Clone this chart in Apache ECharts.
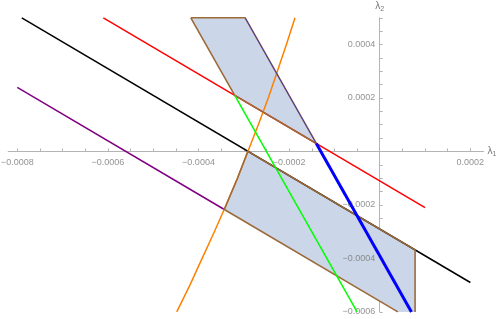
<!DOCTYPE html>
<html>
<head>
<meta charset="utf-8">
<script src="https://cdn.jsdelivr.net/npm/echarts@6/dist/echarts.min.js"></script>
<style>html,body{margin:0;padding:0;background:#fff}#c{width:498px;height:319px}</style>
</head>
<body>
<div id="c"></div>
<script>
// ---- data (values in λ units) ----
const xRange = [-0.00082, 0.000229];
const yRange = [-0.0006, 0.0005];
const xMajorTicks = [-0.0008, -0.0006, -0.0004, -0.0002, 0.0002];
const xMinorTicks = [-0.00075, -0.0007, -0.00065, -0.00055, -0.0005, -0.00045, -0.00035, -0.0003, -0.00025, -0.00015, -0.0001, -0.00005, 0.00005, 0.0001, 0.00015, 0.0002];
const yMajorTicks = [-0.0006, -0.0004, -0.0002, 0.0002, 0.0004];
const yMinorTicks = [-0.00055, -0.0005, -0.00045, -0.00035, -0.0003, -0.00025, -0.00015, -0.0001, -0.00005, 0.00005, 0.0001, 0.00015, 0.00025, 0.0003, 0.00035, 0.00045, 0.0005];

const blackLine  = [[-0.00079, 0.0005], [0.0002, -0.00049]];
const redLine    = [[-0.00061, 0.0005], [0.0001, -0.00021]];
const purpleLine = [[-0.0008, 0.00024], [-0.000343, -0.000217]];
const greenLine  = [[-0.00032, 0.00021], [-0.00005, -0.0006]];
const blueLine   = [[-0.00014, 0.00003], [0.00007, -0.0006]];
const blueThin   = [[-0.000297, 0.0005], [-0.00014, 0.00003]];
const orangeCurve = [
  [-0.000448, -0.0006], [-0.000419, -0.0005], [-0.000392, -0.0004], [-0.000365, -0.0003],
  [-0.000339, -0.0002], [-0.000314, -0.0001], [-0.000291, 0], [-0.000268, 0.0001],
  [-0.000246, 0.0002], [-0.000226, 0.0003], [-0.000206, 0.0004], [-0.000187, 0.0005]
];

const topRegion = [[-0.000417, 0.0005], [-0.000297, 0.0005], [-0.00014, 0.00003], [-0.00032, 0.00021]];
const bottomRegion = [
  [-0.000291, 0.0000006], [0.000078, -0.000368], [0.000078, -0.0006], [0.00004, -0.0006],
  [-0.000343, -0.000217], [-0.000339, -0.0002], [-0.000314, -0.0001]
];
const topEdge = [[-0.000417, 0.0005], [-0.000297, 0.0005], [-0.00014, 0.00003], [-0.00032, 0.00021], [-0.000417, 0.0005]];
const bottomEdgeA = [[-0.000291, 0.0000006], [0.000078, -0.000368], [0.000078, -0.0006]];
const bottomEdgeB = [[0.00004, -0.0006], [-0.000343, -0.000217], [-0.000339, -0.0002], [-0.000314, -0.0001], [-0.000291, 0.0000006]];

// ---- chart ----
const chart = echarts.init(document.getElementById('c'), null, {renderer: 'canvas'});
const fmt = v => (v < 0 ? '\u2212' : '') + Math.abs(v).toFixed(4);
const axisGray = '#b4b4b4';
const labelGray = '#777';
const font = 'Liberation Sans, Arial, sans-serif';
const regions = [topRegion, bottomRegion];
const xAllTicks = xMajorTicks.concat(xMinorTicks);
const yAllTicks = yMajorTicks.concat(yMinorTicks);

function lineSeries(data, color, width, z) {
  return {type: 'line', data: data, showSymbol: false, symbol: 'none', silent: true, z: z,
    lineStyle: {color: color, width: width, cap: 'butt'}};
}
function tickLabelSeries(data, pos, dist) {
  return {type: 'scatter', data: data, symbol: 'circle', symbolSize: 1, silent: true, clip: false, z: 2,
    itemStyle: {color: 'rgba(0,0,0,0)'},
    labelLayout: {hideOverlap: false},
    label: {show: true, position: pos, distance: dist, color: labelGray, fontSize: 9, fontFamily: font,
      formatter: p => fmt(pos === 'bottom' ? p.value[0] : p.value[1])}};
}

chart.setOption({
  animation: false,
  grid: {left: 8.2, right: 14.5, top: 17.8, bottom: 7.1, containLabel: false, outerBoundsMode: 'none'},
  xAxis: {
    type: 'value', min: xRange[0], max: xRange[1],
    axisLine: {onZero: true, lineStyle: {color: axisGray, width: 1}},
    axisTick: {show: true, inside: true, length: 3, customValues: xAllTicks, lineStyle: {color: axisGray}},
    axisLabel: {show: false},
    splitLine: {show: false},
    name: '{i|λ}{s|1}', nameLocation: 'end', nameGap: 4,
    nameTextStyle: {rich: {i: {fontSize: 10, color: labelGray, fontFamily: font}, s: {fontSize: 7, color: labelGray, padding: [6,0,0,0], fontFamily: font}}}
  },
  yAxis: {
    type: 'value', min: yRange[0], max: yRange[1],
    axisLine: {onZero: true, lineStyle: {color: axisGray, width: 1}},
    axisTick: {show: true, inside: true, length: 3, customValues: yAllTicks, lineStyle: {color: axisGray}},
    axisLabel: {show: false},
    splitLine: {show: false},
    name: '{i|λ}{s|2}', nameLocation: 'end', nameGap: 5,
    nameTextStyle: {rich: {i: {fontSize: 10, color: labelGray, fontFamily: font}, s: {fontSize: 7, color: labelGray, padding: [6,0,0,0], fontFamily: font}}}
  },
  series: [
    {
      type: 'custom', clip: true, silent: true, z: 1, data: [0, 1],
      renderItem: function (params, api) {
        const pts = regions[params.dataIndex].map(p => api.coord(p));
        return {type: 'polygon', shape: {points: pts}, style: {fill: 'rgb(203,214,232)', stroke: null}};
      }
    },
    lineSeries(blackLine, '#000000', 1.5, 3),
    lineSeries(redLine, '#ff0000', 1.5, 3),
    lineSeries(purpleLine, '#800080', 1.5, 3),
    lineSeries(orangeCurve, '#ff8000', 1.5, 3),
    lineSeries(topEdge, '#9c6b3a', 1.6, 4),
    lineSeries(bottomEdgeA, '#9c6b3a', 1.6, 4),
    lineSeries(bottomEdgeB, '#9c6b3a', 1.6, 4),
    lineSeries(blueThin, '#3030d0', 0.8, 5),
    lineSeries(greenLine, '#00ff00', 1.5, 5),
    lineSeries(blueLine, '#0000ff', 3, 5),
    tickLabelSeries(xMajorTicks.map(v => [v, 0]), 'bottom', 6),
    tickLabelSeries(yMajorTicks.map(v => [0, v]), 'left', 4)
  ]
});
</script>
</body>
</html>
